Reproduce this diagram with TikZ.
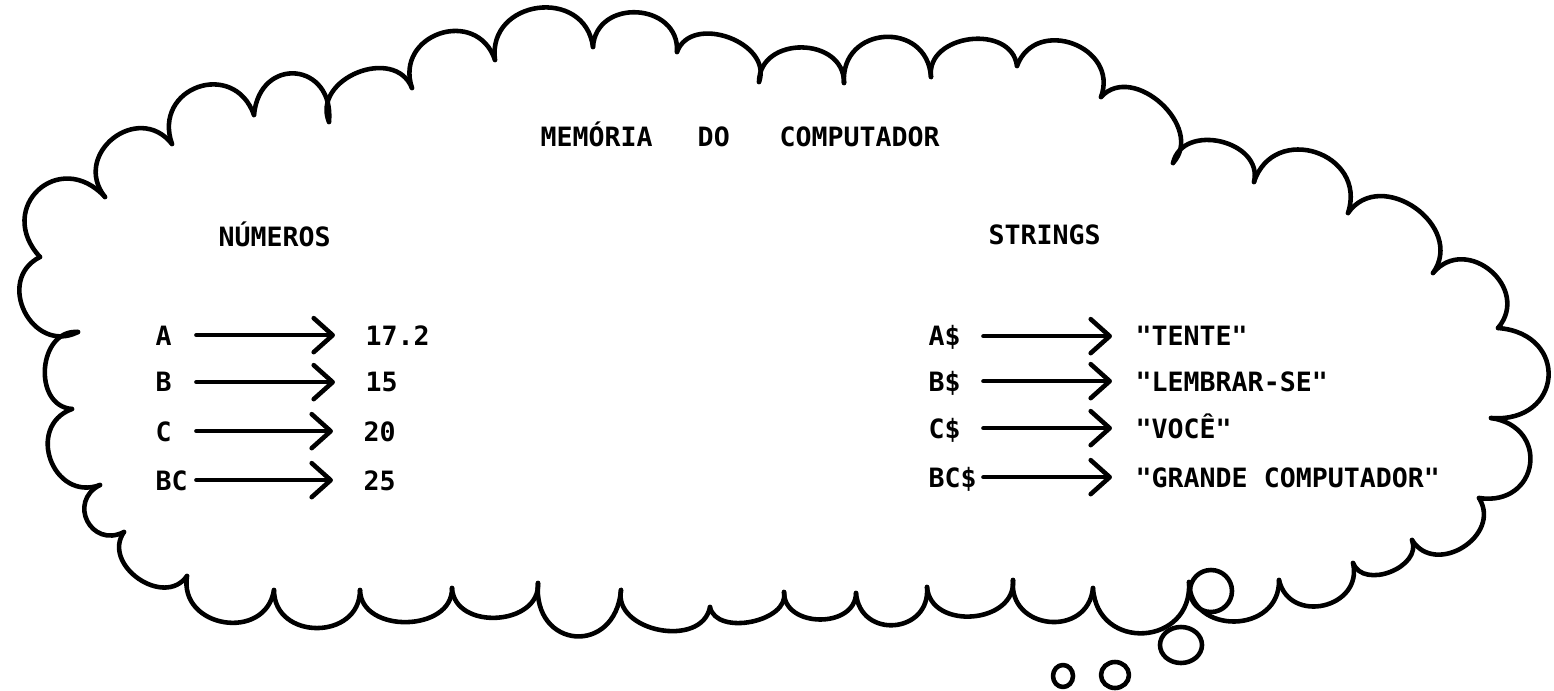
\documentclass[tikz,border=0pt]{standalone}
\usepackage{fontspec}
\newfontfamily\lgfont{DejaVu Sans Mono}
\usetikzlibrary{calc,arrows.meta}
\begin{document}
\begin{tikzpicture}[x=0.01cm,y=-0.01cm,
  cloud/.style={line width=1.3pt,line cap=round,line join=round},
  txt/.style={font={\lgfont\bfseries\fontsize{7.56pt}{9pt}\selectfont},inner sep=0pt,text height=5.6pt,text depth=0pt,anchor=base west},
  lblL/.style={txt,text width=0.40cm,align=left},
  lblR/.style={txt,text width=0.54cm,align=left},
  arrL/.style={cloud,-{Straight Barb[length=0.19cm,width=0.34cm,round]},shorten >=0.30cm},
  arrR/.style={cloud,-{Straight Barb[length=0.19cm,width=0.34cm,round]},shorten >=0.23cm}]
\useasboundingbox (0,0) rectangle (1554,691);
\fill[white] (0,0) rectangle (1554,691);
% cloud cusps
\coordinate (c1) at (495,60);
\coordinate (c2) at (593,47);
\coordinate (c3) at (677,52);
\coordinate (c4) at (759,82);
\coordinate (c5) at (844,83);
\coordinate (c6) at (931,77);
\coordinate (c7) at (1017,66);
\coordinate (c8) at (1101,97);
\coordinate (c9) at (1173,163);
\coordinate (c10) at (1254,182);
\coordinate (c11) at (1348,213);
\coordinate (c12) at (1433,273);
\coordinate (c13) at (1498,328);
\coordinate (c14) at (1491,418);
\coordinate (c15) at (1479,498);
\coordinate (c16) at (1412,540);
\coordinate (c17) at (1353,563);
\coordinate (c18) at (1279,580);
\coordinate (c19) at (1189,582);
\coordinate (c20) at (1093,588);
\coordinate (c21) at (1013,580);
\coordinate (c22) at (927,587);
\coordinate (c23) at (856,593);
\coordinate (c24) at (784,592);
\coordinate (c25) at (710,607);
\coordinate (c26) at (621,590);
\coordinate (c27) at (538,583);
\coordinate (c28) at (452,588);
\coordinate (c29) at (360,590);
\coordinate (c30) at (274,590);
\coordinate (c31) at (187,576);
\coordinate (c32) at (124,532);
\coordinate (c33) at (100,485);
\coordinate (c34) at (72,409);
\coordinate (c35) at (78,332);
\coordinate (c36) at (40,257);
\coordinate (c37) at (105,197);
\coordinate (c38) at (172,144);
\coordinate (c39) at (254,115);
\coordinate (c40) at (329,122);
\coordinate (c41) at (412,88);
\foreach \p/\q/\h in {c1/c2/0.62, c2/c3/0.59, c3/c4/0.48, c4/c5/0.55, c5/c6/0.66, c6/c7/0.5, c7/c8/0.6, c8/c9/0.49, c9/c10/0.51, c10/c11/0.64, c11/c12/0.55, c12/c13/0.61, c13/c14/0.8, c14/c15/0.75, c15/c16/0.56, c16/c17/0.46, c17/c18/0.61, c18/c19/0.6, c19/c20/0.67, c20/c21/0.63, c21/c22/0.51, c22/c23/0.66, c23/c24/0.5, c24/c25/0.4, c25/c26/0.47, c26/c27/0.8, c27/c28/0.5, c28/c29/0.48, c29/c30/0.59, c30/c31/0.6, c31/c32/0.52, c32/c33/0.7, c33/c34/0.62, c34/c35/0.52, c35/c36/0.61, c36/c37/0.76, c37/c38/0.64, c38/c39/0.69, c39/c40/0.8, c40/c41/0.52, c41/c1/0.65}
  \draw[cloud] (\p) .. controls ($(\p)!\h!90:(\q)$) and ($(\q)!\h!-90:(\p)$) .. (\q);
% thought bubbles
\draw[cloud] (1211,591) ellipse[x radius=21,y radius=21];
\draw[cloud] (1181,645) ellipse[x radius=21,y radius=18];
\draw[cloud] (1115,675) ellipse[x radius=14,y radius=13];
\draw[cloud] (1063,676) ellipse[x radius=10,y radius=11];
% titles
\node[txt] (title) at (540,147) {MEMÓRIA\hspace{12.8pt}DO\hspace{14.2pt}COMPUTADOR};
\node[txt] (num) at (218,247) {NÚMEROS};
\node[txt] (str) at (988,245) {STRINGS};
% numbers
\node[lblL] (la) at (155,345) {A};
\node[lblL] (lb) at (155,392) {B};
\node[lblL] (lc) at (155,441) {C};
\node[lblL] (lbc) at (155,490) {BC};
\node[txt] (va) at (365,345) {17.2};
\node[txt] (vb) at (365,392) {15};
\node[txt] (vc) at (363,441) {20};
\node[txt] (vbc) at (363,490) {25};
\draw[arrL] (la.east) -- (va.west);
\draw[arrL] (lb.east) -- (vb.west);
\draw[arrL] (lc.east) -- (vc.west);
\draw[arrL] (lbc.east) -- (vbc.west);
% strings
\node[lblR] (sa) at (928,346) {A\$};
\node[lblR] (sb) at (928,391) {B\$};
\node[lblR] (sc) at (928,438) {C\$};
\node[lblR] (sbc) at (928,487) {BC\$};
\node[txt] (ta) at (1135,346) {"TENTE"};
\node[txt] (tb) at (1135,391) {"LEMBRAR-SE"};
\node[txt] (tc) at (1135,438) {"VOCÊ"};
\node[txt] (tbc) at (1135,487) {"GRANDE COMPUTADOR"};
\draw[arrR] (sa.east) -- (ta.west);
\draw[arrR] (sb.east) -- (tb.west);
\draw[arrR] (sc.east) -- (tc.west);
\draw[arrR] (sbc.east) -- (tbc.west);
\end{tikzpicture}
\end{document}
